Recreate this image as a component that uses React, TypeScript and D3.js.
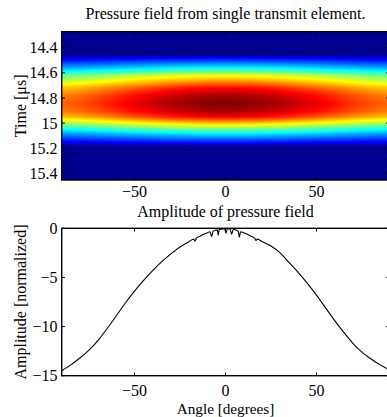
import React, { useEffect, useRef } from "react";
import * as d3 from "d3";

// ---- Data ----
const angles = [
  -90, -85, -80, -75, -70, -65, -60, -55, -50, -45, -40, -35, -30, -25, -20,
  -17.5, -16.8, -16, -14, -12, -10, -8.5, -7.6, -6.8, -5.5, -4.5, -4, -3.5, -2,
  -0.5, 0.3, 1, 2.5, 3.4, 4.3, 6, 7, 7.6, 8.3, 10, 12, 14, 16, 16.8, 17.5, 20,
  25, 30, 35, 40, 45, 50, 55, 60, 65, 70, 75, 80, 85, 90,
];
const amplitudeDb = [
  -14.5, -13.9, -13.2, -12.4, -11.4, -10.2, -8.9, -7.6, -6.4, -5.3, -4.3, -3.4,
  -2.6, -1.9, -1.35, -1.1, -1.3, -1.0, -0.8, -0.6, -0.45, -0.35, -0.85, -0.3,
  -0.2, -0.15, -0.7, -0.12, -0.08, -0.05, -0.5, -0.05, -0.07, -0.6, -0.1, -0.2,
  -0.3, -0.9, -0.35, -0.45, -0.6, -0.8, -1.0, -1.25, -1.1, -1.35, -1.8, -2.5,
  -3.5, -4.5, -5.6, -6.8, -8.1, -9.4, -10.6, -11.7, -12.6, -13.3, -13.9, -14.4,
];

// pressure field: relative gain across angle and envelope across time
const gainAngles = [-90, -80, -70, -60, -50, -40, -30, -20, -10, 0, 10, 20, 30, 40, 50, 60, 70, 80, 90];
const gainValues = [0.78, 0.8, 0.83, 0.865, 0.9, 0.93, 0.96, 0.98, 0.995, 1.0, 0.995, 0.98, 0.96, 0.93, 0.9, 0.865, 0.83, 0.8, 0.78];
const envTimes = [
  14.27, 14.44, 14.46, 14.484, 14.524, 14.563, 14.595, 14.627, 14.675, 14.723,
  14.78, 14.845, 14.91, 14.954, 14.986, 15.018, 15.049, 15.081, 15.121, 15.161,
  15.185, 15.46,
];
const envValues = [
  0, 0, 0, 0.125, 0.25, 0.375, 0.5, 0.625, 0.75, 0.875, 0.96, 1.0, 0.96, 0.875,
  0.75, 0.625, 0.5, 0.375, 0.25, 0.125, 0, 0,
];

const timeTicks = [14.4, 14.6, 14.8, 15, 15.2, 15.4];
const angleTicks = [-50, 0, 50];
const ampTicks = [0, -5, -10, -15];

const jetKnots = [0, 0.125, 0.375, 0.625, 0.875, 1];
const jetColors = ["#00008f", "#0000ff", "#00ffff", "#ffff00", "#ff0000", "#800000"];

// ---- Layout ----
const W = 387;
const H = 417;
const left = 61.7;
const right = 389.3;
const top1 = 31.7;
const bot1 = 180;
const top2 = 228.3;
const bot2 = 375.7;
const FONT = "'Liberation Serif', 'Times New Roman', serif";
const FS = 16;
const TICK = 3.3;

const fmt = (v: number) => (v < 0 ? "\u2212" + String(-v) : String(v));

export default function App() {
  const heatRef = useRef<SVGGElement>(null);

  const x = d3.scaleLinear().domain([-90, 90]).range([left, right]);
  const yT = d3.scaleLinear().domain([14.2726, 15.453]).range([top1, bot1]);
  const yA = d3.scaleLinear().domain([-15, 0]).range([bot2, top2]);
  const jet = d3.scaleLinear<string>().domain(jetKnots).range(jetColors).clamp(true);
  const gain = d3.scaleLinear().domain(gainAngles).range(gainValues).clamp(true);
  const env = d3.scaleLinear().domain(envTimes).range(envValues).clamp(true);

  useEffect(() => {
    const g = d3.select(heatRef.current);
    g.selectAll("*").remove();
    const cells: { a: number; t: number; v: number }[] = [];
    const dt = 1 / 125.6;
    const t0 = yT.domain()[0];
    const t1 = yT.domain()[1];
    for (let a = -90; a <= 90; a += 1) {
      for (let t = t0; t <= t1 + dt; t += dt) {
        cells.push({ a, t, v: gain(a) * env(t) });
      }
    }
    const colW = x(1) - x(0);
    g.selectAll("rect")
      .data(cells)
      .join("rect")
      .attr("x", (d) => x(d.a) - colW / 2)
      .attr("y", (d) => yT(d.t) - 0.5)
      .attr("width", colW + 0.4)
      .attr("height", 1.3)
      .attr("fill", (d) => jet(d.v))
      .attr("shape-rendering", "crispEdges");
  }, []);

  const line = d3
    .line<number>()
    .x((_, i) => x(angles[i]))
    .y((d) => yA(d))
    .curve(d3.curveMonotoneX);

  const axisBox = (y0: number, y1: number) => (
    <rect x={left} y={y0} width={right - left} height={y1 - y0} fill="none" stroke="#000" strokeWidth={1.4} />
  );

  return (
    <svg width={W} height={H} style={{ position: "absolute", left: 0, top: 0, background: "#fff" }} fontFamily={FONT} fontSize={FS}>
      <rect x={0} y={0} width={W} height={H} fill="#fff" />
      <defs>
        <clipPath id="clip1">
          <rect x={left} y={top1} width={right - left} height={bot1 - top1} />
        </clipPath>
        <clipPath id="clip2">
          <rect x={left} y={top2} width={right - left} height={bot2 - top2} />
        </clipPath>
      </defs>

      {/* Top panel */}
      <text x={(left + right) / 2} y={19.3} textAnchor="middle">Pressure field from single transmit element.</text>
      <g ref={heatRef} clipPath="url(#clip1)" />
      {timeTicks.map((t) => (
        <g key={"tt" + t}>
          <line x1={left} x2={left + TICK} y1={yT(t)} y2={yT(t)} stroke="#000" strokeWidth={1} />
          <line x1={right} x2={right - TICK} y1={yT(t)} y2={yT(t)} stroke="#000" strokeWidth={1} />
          <text x={57.5} y={yT(t)} dy="0.35em" textAnchor="end">{fmt(t)}</text>
        </g>
      ))}
      {angleTicks.map((a) => (
        <g key={"at1" + a}>
          <line x1={x(a)} x2={x(a)} y1={bot1} y2={bot1 - TICK} stroke="#000" strokeWidth={1} />
          <line x1={x(a)} x2={x(a)} y1={top1} y2={top1 + TICK} stroke="#000" strokeWidth={1} />
          <text x={x(a)} y={196.6} textAnchor="middle">{fmt(a)}</text>
        </g>
      ))}
      {axisBox(top1, bot1)}
      <text transform={`translate(25.5,${(top1 + bot1) / 2}) rotate(-90)`} textAnchor="middle">Time [μs]</text>

      {/* Bottom panel */}
      <text x={(left + right) / 2} y={216.7} textAnchor="middle">Amplitude of pressure field</text>
      <path d={line(amplitudeDb) || ""} fill="none" stroke="#000" strokeWidth={1.1} clipPath="url(#clip2)" />
      {ampTicks.map((v) => (
        <g key={"yt" + v}>
          <line x1={left} x2={left + TICK} y1={yA(v)} y2={yA(v)} stroke="#000" strokeWidth={1} />
          <line x1={right} x2={right - TICK} y1={yA(v)} y2={yA(v)} stroke="#000" strokeWidth={1} />
          <text x={57.5} y={yA(v)} dy="0.35em" textAnchor="end">{fmt(v)}</text>
        </g>
      ))}
      {angleTicks.map((a) => (
        <g key={"at2" + a}>
          <line x1={x(a)} x2={x(a)} y1={bot2} y2={bot2 - TICK} stroke="#000" strokeWidth={1} />
          <line x1={x(a)} x2={x(a)} y1={top2} y2={top2 + TICK} stroke="#000" strokeWidth={1} />
          <text x={x(a)} y={396.2} textAnchor="middle">{fmt(a)}</text>
        </g>
      ))}
      {axisBox(top2, bot2)}
      <text x={(left + right) / 2} y={413.6} textAnchor="middle" fontSize={15.2}>Angle [degrees]</text>
      <text transform={`translate(25.5,${(top2 + bot2) / 2}) rotate(-90)`} textAnchor="middle">Amplitude [normalized]</text>
    </svg>
  );
}
